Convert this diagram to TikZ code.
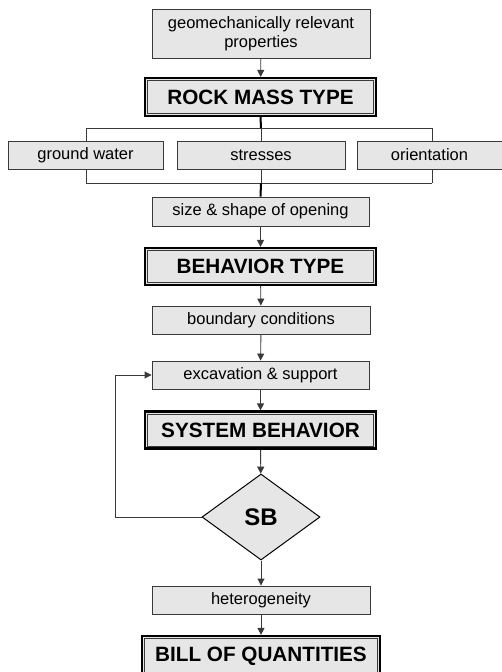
\documentclass[tikz,border=0pt]{standalone}
\usepackage{fontspec}
\setmainfont{Liberation Sans}
\usetikzlibrary{shapes.geometric,arrows.meta}
\definecolor{boxfill}{HTML}{E6E6E6}
\definecolor{edge}{HTML}{3A3A3A}
\tikzset{
  smallbox/.style={draw=edge, line width=0.9pt, fill=boxfill, inner sep=0pt, align=center,
    font=\fontsize{16.5}{19.5}\selectfont},
  bigbox/.style={draw=black, line width=2.2pt, fill=boxfill, inner sep=0pt,
    font=\bfseries\fontsize{20.7}{24}\selectfont},
  innerline/.style={draw=edge, line width=0.7pt},
  conn/.style={draw=edge, line width=0.9pt},
  thickconn/.style={draw=black, line width=2pt},
  arr/.style={conn, -{Triangle[length=7pt,width=7pt]}},
  decision/.style={diamond, draw=black, line width=1pt, fill=boxfill, inner sep=0pt,
    minimum width=118pt, minimum height=86pt, font=\bfseries\fontsize{24}{28}\selectfont}
}
\begin{document}
\begin{tikzpicture}[x=1pt,y=-1pt]
\clip (0,0) rectangle (502,672);
\fill[white] (0,0) rectangle (502,672);

\node[smallbox, minimum width=218pt, minimum height=49pt] (geo) at (261,33.5) {geomechanically relevant\\properties};
\node[bigbox, minimum width=231pt, minimum height=38pt] (rmt) at (260.5,97) {ROCK MASS TYPE};

\node[smallbox, minimum width=155pt, minimum height=28pt] (gw) at (85.5,155) {ground water};
\node[smallbox, minimum width=168pt, minimum height=28pt] (st) at (261,155) {stresses};
\node[smallbox, minimum width=145pt, minimum height=28pt] (or) at (429.5,155) {orientation};

\node[smallbox, minimum width=217pt, minimum height=29pt] (size) at (260.5,211.5) {size \& shape of opening};
\node[bigbox, minimum width=231pt, minimum height=37pt] (bt) at (260.5,266.5) {BEHAVIOR TYPE};
\node[smallbox, minimum width=218pt, minimum height=28pt] (bc) at (261,320) {boundary conditions};
\node[smallbox, minimum width=217pt, minimum height=28pt] (ex) at (260.5,375) {excavation \& support};
\node[bigbox, minimum width=231pt, minimum height=37pt] (sb) at (260.5,430) {SYSTEM BEHAVIOR};
\node[decision] (dec) at (261,517) {SB};
\node[smallbox, minimum width=218pt, minimum height=28pt] (het) at (261,600) {heterogeneity};
\node[bigbox, minimum width=238pt, minimum height=40pt] (boq) at (261,656) {BILL OF QUANTITIES};

\foreach \n in {rmt,bt,sb,boq}
  \draw[innerline] ([xshift=3.6pt,yshift=-3.6pt]\n.north west) rectangle ([xshift=-3.6pt,yshift=3.6pt]\n.south east);

% upper distribution bar
\coordinate (t1) at (86,128);
\coordinate (tm) at (261,128);
\coordinate (t2) at (432,128);
\coordinate (b1) at (86,183.3);
\coordinate (bm) at (261,183.3);
\coordinate (b2) at (432,183.3);

\draw[arr] (geo) -- (rmt);
\draw[thickconn] (rmt.south) -- (tm);
\draw[conn] (t1) -- (t2);
\draw[conn] (t1) -- (t1 |- gw.north);
\draw[conn] (tm) -- (st.north);
\draw[conn] (t2) -- (t2 |- or.north);
\draw[conn] (b1 |- gw.south) -- (b1);
\draw[conn] (st.south) -- (bm);
\draw[conn] (b2 |- or.south) -- (b2);
\draw[conn] (b1) -- (b2);
\draw[thickconn] (bm) -- (size.north);

\draw[arr] (size) -- (bt);
\draw[arr] (bt) -- (bc);
\draw[arr] (bc) -- (ex);
\draw[arr] (ex) -- (sb);
\draw[arr] (sb) -- (dec);
\draw[arr] (dec.west) -- (115,517) |- (ex.west);
\draw[arr] (dec) -- (het);
\draw[arr] (het) -- (boq);
\end{tikzpicture}
\end{document}
